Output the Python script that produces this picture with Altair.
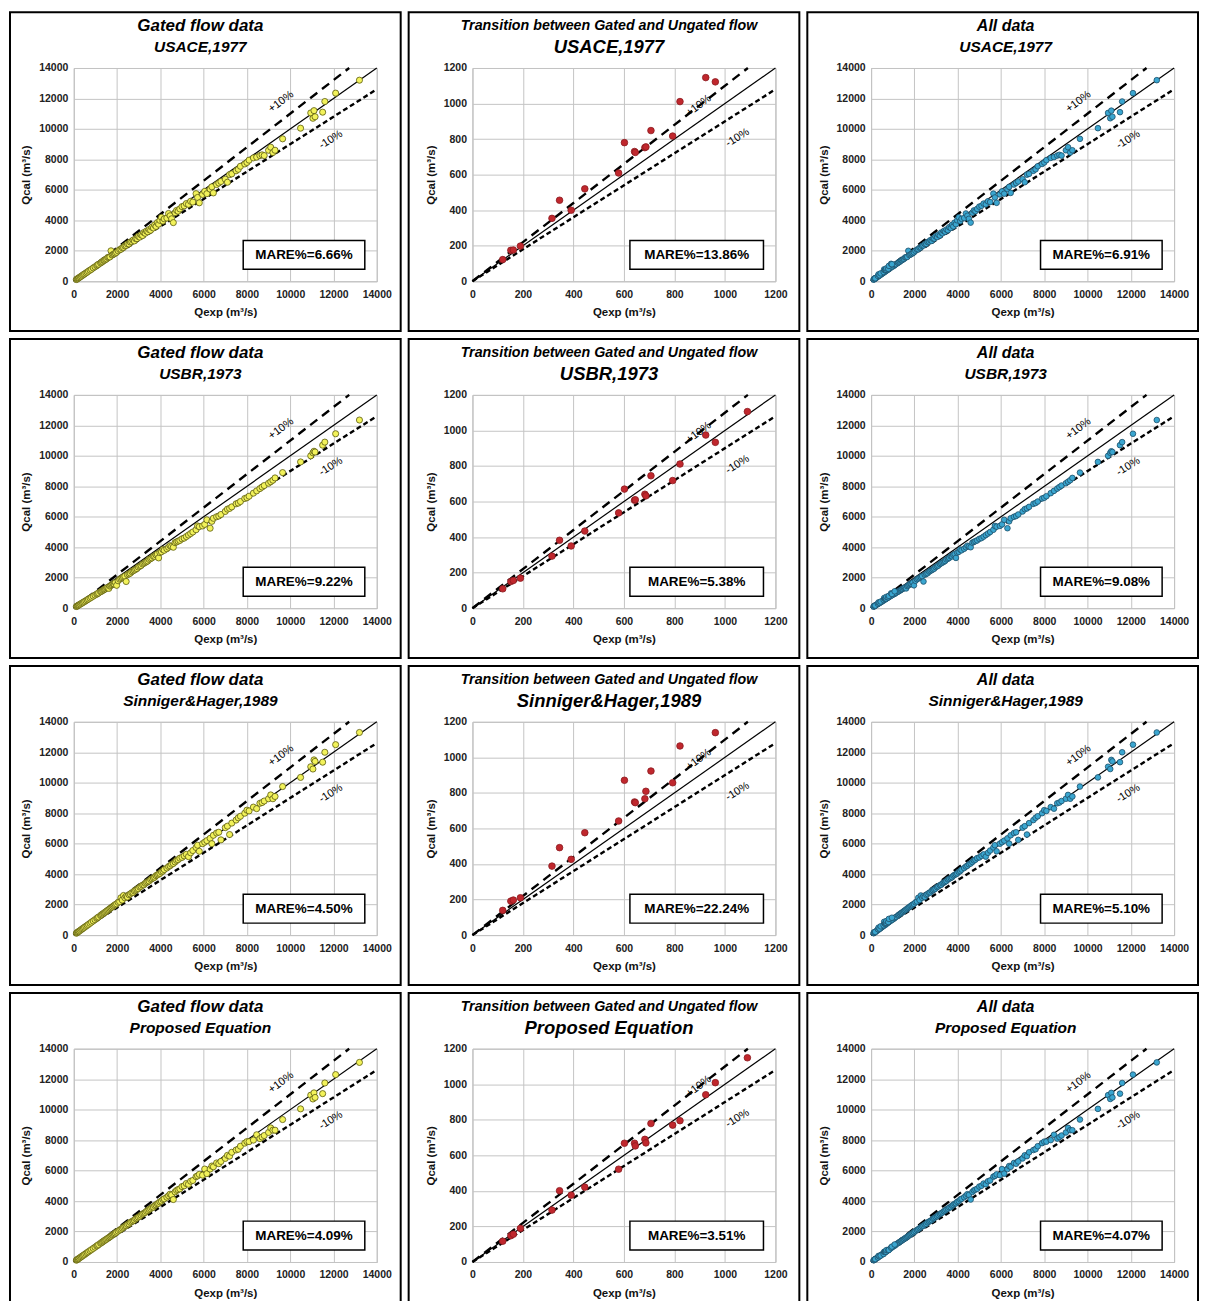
import altair as alt
import pandas as pd

# ---------------- data ----------------
# Gated flow: measured discharge (shared by all methods)
QEXP_G = [120, 150, 180, 210, 250, 300, 350, 400, 450, 500, 560, 620, 680, 750, 820, 900, 980,
          1060, 1100, 1150, 1240, 1280, 1330, 1380, 1420, 1470, 1520, 1570, 1620, 1670, 1720, 1770, 1820, 1870, 1920, 1980,
          2050, 2120, 2180, 2240, 2300, 2360, 2420, 2480, 2550, 2610, 2680, 2740, 2800, 2860, 2920, 2980,
          3050, 3110, 3180, 3240, 3300, 3360, 3420, 3480, 3550, 3610, 3680, 3740, 3800, 3860, 3920, 3980,
          4050, 4120, 4180, 4300, 4380, 4450, 4520, 4600, 4680, 4750, 4820, 4900, 5000, 5100, 5200, 5300, 5400, 5500, 5650, 5720, 5800, 5950,
          6050, 6150, 6300, 6380, 6450, 6600, 6700, 6800, 7000, 7100, 7200, 7300, 7500, 7600, 7700, 7900, 8000, 8100, 8300, 8450, 8600, 8700, 8800, 9000, 9100, 9200, 9300,
          9650, 10480, 10950, 11050, 11100, 11150, 11500, 11600, 12100, 13200]

QCAL_G_USACE = [115, 145, 172, 205, 240, 290, 335, 390, 440, 485, 545, 600, 665, 730, 790, 880, 950,
                1020, 1080, 1120, 1200, 1250, 1290, 1360, 1380, 1430, 1470, 1560, 1580, 1600, 2000, 1720, 1760, 1800, 1850, 1900,
                2000, 2080, 2100, 2200, 2220, 2320, 2350, 2450, 2450, 2580, 2600, 2700, 2650, 2800, 2800, 2950,
                2900, 3050, 3000, 3200, 3150, 3300, 3250, 3400, 3350, 3550, 3500, 3700, 3600, 3850, 3750, 4000,
                4200, 3950, 4100, 4150, 4450, 4300, 4100, 3850, 4500, 4650, 4600, 4750, 4900, 4950, 5100, 5050, 5250, 5200, 5750, 5500, 5150, 5700,
                5900, 5750, 6050, 6200, 5800, 6350, 6450, 6550, 6700, 6500, 7000, 7050, 7250, 7350, 7550, 7700, 7800, 7950, 8100, 8150, 8250, 8300, 8250, 8600, 8800, 8450, 8600,
                9350, 10050, 11050, 10700, 11200, 10800, 11100, 11800, 12350, 13200]

QCAL_G_USBR = [110, 135, 160, 190, 225, 265, 310, 350, 395, 440, 490, 545, 600, 660, 720, 790, 860,
               920, 960, 1000, 1080, 1110, 1160, 1200, 1240, 1270, 1330, 1350, 1300, 1450, 1500, 1550, 1600, 1580, 1680, 1500,
               1800, 1900, 1950, 2000, 2050, 2100, 1750, 2200, 2250, 2300, 2400, 2450, 2500, 2550, 2600, 2700,
               2750, 2800, 2900, 2950, 3000, 3050, 3100, 3200, 3250, 3300, 3400, 3400, 3500, 3550, 3300, 3650,
               3700, 3850, 3800, 3900, 4000, 4100, 4050, 4000, 4300, 4350, 4400, 4450, 4550, 4600, 4700, 4800, 4900, 5000, 5150, 5400, 5350, 5400,
               5500, 5800, 5250, 5700, 5900, 6000, 6050, 6150, 6350, 6500, 6550, 6650, 6850, 6900, 7000, 7200, 7250, 7350, 7550, 7700, 7850, 7950, 8050, 8200, 8300, 8400, 8550,
               8900, 9600, 10000, 10200, 10300, 10250, 10700, 10900, 11450, 12350]

QCAL_G_SH = [125, 155, 190, 220, 260, 310, 365, 415, 465, 520, 580, 640, 700, 775, 850, 930, 1010,
             1090, 1140, 1190, 1280, 1330, 1380, 1430, 1470, 1520, 1580, 1630, 1680, 1740, 1790, 1840, 1900, 1950, 2000, 2050,
             2150, 2200, 2450, 2300, 2600, 2450, 2550, 2500, 2650, 2700, 2780, 2800, 2900, 2950, 3000, 3050,
             3150, 3200, 3280, 3300, 3400, 3450, 3500, 3550, 3650, 3700, 3750, 3800, 3900, 3950, 4000, 4050,
             4150, 4200, 4300, 4400, 4500, 4550, 4650, 4700, 4800, 4900, 4950, 5050, 5100, 5200, 5300, 5150, 5400, 5550, 5750, 5900, 5500, 6000,
             6100, 6200, 6350, 6000, 6550, 6700, 6750, 6250, 7050, 7150, 6600, 7350, 7550, 7700, 7800, 8000, 8200, 8150, 8400, 8300, 8650, 8700, 8800, 8950, 9200, 8950, 9100,
             9750, 10350, 11050, 10900, 11500, 11400, 11350, 12000, 12500, 13300]

QCAL_G_PROP = [118, 148, 178, 208, 245, 298, 345, 398, 445, 495, 555, 615, 675, 745, 810, 890, 970,
               1050, 1090, 1140, 1230, 1270, 1320, 1370, 1410, 1460, 1500, 1560, 1600, 1650, 1700, 1760, 1800, 1850, 1900, 1960,
               2030, 2100, 2150, 2220, 2280, 2340, 2380, 2460, 2500, 2600, 2650, 2700, 2750, 2840, 2880, 2950,
               3000, 3080, 3150, 3200, 3250, 3330, 3380, 3450, 3500, 3580, 3600, 3700, 3750, 3820, 3850, 3950,
               4000, 4100, 4150, 4250, 4350, 4450, 4400, 4100, 4600, 4700, 4750, 4800, 4950, 5000, 5150, 5100, 5300, 5350, 5600, 5650, 5750, 5700,
               6100, 5800, 6100, 6300, 6250, 6500, 6450, 6600, 6800, 7000, 6950, 7200, 7350, 7400, 7600, 7800, 7900, 7900, 8000, 8350, 8100, 8200, 8300, 8500, 8800, 8650, 8650,
               9350, 10050, 10950, 10700, 11100, 10800, 11050, 11750, 12300, 13100]

# Transition between gated and ungated flow
QEXP_T = [120, 152, 162, 190, 315, 345, 391, 445, 579, 602, 642, 645, 683, 687, 707, 793, 822, 924, 962, 1089]
QCAL_T_USACE = [122, 174, 176, 198, 354, 456, 400, 520, 609, 780, 730, 725, 752, 756, 848, 817, 1011, 1146, 1122, None]
QCAL_T_USBR = [109, 150, 156, 169, 293, 382, 350, 434, 536, 670, 607, 610, 641, 632, 745, 718, 811, 974, 933, 1106]
QCAL_T_SH = [139, 191, 197, 210, 388, 492, 426, 576, 642, 871, 749, 745, 767, 809, 923, 857, 1064, None, 1139, None]
QCAL_T_PROP = [117, 148, 156, 189, 292, 401, 376, 421, 522, 668, 668, 653, 690, 670, 779, 770, 795, 941, 1009, 1149]

METHODS = ["USACE,1977", "USBR,1973", "Sinniger&Hager,1989", "Proposed Equation"]
GATED = [QCAL_G_USACE, QCAL_G_USBR, QCAL_G_SH, QCAL_G_PROP]
TRANS = [QCAL_T_USACE, QCAL_T_USBR, QCAL_T_SH, QCAL_T_PROP]
MARE_GATED = ["6.66", "9.22", "4.50", "4.09"]
MARE_TRANS = ["13.86", "5.38", "22.24", "3.51"]
MARE_ALL = ["6.91", "9.08", "5.10", "4.07"]

# ---------------- styling ----------------
W, H = 304, 214
FONT = "Liberation Sans"
YELLOW, YELLOW_EDGE = "#f2f25a", "#5a5a10"
RED, RED_EDGE = "#c0272d", "#8a1b1f"
BLUE, BLUE_EDGE = "#3aa6d0", "#1d4f6a"


def panel(xs, ys, maxv, step, t1, t2, t1size, t2size, title_x, mare, fill, edge, size, bw, lab_pos):
    df = pd.DataFrame({"Qexp": xs, "Qcal": ys}).dropna()
    ticks = list(range(0, maxv + 1, step))
    xenc = alt.X("Qexp:Q", scale=alt.Scale(domain=[0, maxv], nice=False),
                 axis=alt.Axis(values=ticks, format="d", title="Qexp (m³/s)", labelOverlap=False,
                               labelFlush=False))
    yenc = alt.Y("Qcal:Q", scale=alt.Scale(domain=[0, maxv], nice=False),
                 axis=alt.Axis(values=ticks, format="d", title="Qcal (m³/s)", labelOverlap=False,
                               labelFlush=False))
    one = alt.Data(values=[{"k": 0}])

    frame = alt.Chart(one).mark_rect(fill="white", fillOpacity=0, stroke="black", strokeWidth=2).encode(
        x=alt.value(-64), x2=alt.value(W + 24), y=alt.value(-56), y2=alt.value(H + 50))
    title1 = alt.Chart(one).mark_text(text=t1, fontSize=t1size, fontWeight="bold", fontStyle="italic",
                                      font=FONT, color="black", baseline="middle").encode(
        x=alt.value(title_x), y=alt.value(-42))
    title2 = alt.Chart(one).mark_text(text=t2, fontSize=t2size, fontWeight="bold", fontStyle="italic",
                                      font=FONT, color="black", baseline="middle").encode(
        x=alt.value(title_x), y=alt.value(-21))
    line11 = alt.Chart(pd.DataFrame({"Qexp": [0, maxv], "Qcal": [0, maxv]})).mark_line(
        color="black", strokeWidth=1.2).encode(x=xenc, y=yenc)
    plus = alt.Chart(pd.DataFrame({"Qexp": [0, maxv / 1.1], "Qcal": [0, maxv]})).mark_line(
        color="black", strokeWidth=2.4, strokeDash=[9, 6]).encode(x=xenc, y=yenc)
    minus = alt.Chart(pd.DataFrame({"Qexp": [0, maxv], "Qcal": [0, maxv * 0.9]})).mark_line(
        color="black", strokeWidth=2.4, strokeDash=[5, 3]).encode(x=xenc, y=yenc)
    pts = alt.Chart(df).mark_circle(size=size, fill=fill, stroke=edge, strokeWidth=0.8, opacity=1).encode(
        x=xenc, y=yenc)
    (px, py), (mx, my) = lab_pos
    plus_lbl = alt.Chart(one).mark_text(text="+10%", angle=323, fontSize=11, color="black", font=FONT).encode(
        x=alt.value(px), y=alt.value(py))
    minus_lbl = alt.Chart(one).mark_text(text="-10%", angle=328, fontSize=11, color="black", font=FONT).encode(
        x=alt.value(mx), y=alt.value(my))
    x2 = W - 12
    box = alt.Chart(one).mark_rect(fill="white", stroke="black", strokeWidth=1.5).encode(
        x=alt.value(x2 - bw), x2=alt.value(x2), y=alt.value(H - 41), y2=alt.value(H - 12))
    box_txt = alt.Chart(one).mark_text(text=f"MARE%={mare}%", fontSize=13.5, fontWeight="bold",
                                       font=FONT, color="black").encode(
        x=alt.value(x2 - bw / 2), y=alt.value(H - 26.5))
    return alt.layer(frame, title1, title2, line11, plus, minus, pts, plus_lbl, minus_lbl, box, box_txt).properties(
        width=W, height=H)


LAB_BIG = ((208, 34), (258, 72))
LAB_SMALL = ((227, 38), (266, 70))

rows = []
for i, m in enumerate(METHODS):
    g = panel(QEXP_G, GATED[i], 14000, 2000, "Gated flow data", m, 17, 15.5, 127,
              MARE_GATED[i], YELLOW, YELLOW_EDGE, 38, 122, LAB_BIG)
    t = panel(QEXP_T, TRANS[i], 1200, 200, "Transition between Gated and Ungated flow", m, 14.3, 18.5, 137,
              MARE_TRANS[i], RED, RED_EDGE, 44, 134, LAB_SMALL)
    a = panel(QEXP_G + QEXP_T, GATED[i] + TRANS[i], 14000, 2000, "All data", m, 16, 15.5, 135,
              MARE_ALL[i], BLUE, BLUE_EDGE, 32, 122, LAB_BIG)
    rows.append(alt.hconcat(g, t, a, spacing=4))

chart = alt.vconcat(*rows, spacing=4).properties(
    padding=0, background="white"
).configure_view(stroke="#b8b8b8", strokeWidth=1).configure_axis(
    labelFont=FONT, titleFont=FONT, labelFontSize=10.5, labelFontWeight="bold", labelColor="#222",
    titleFontSize=11.5, titleFontWeight="bold", titleColor="#111", gridColor="#c4c4c4", gridWidth=1,
    ticks=False, domain=False
).configure_axisX(labelPadding=8, titlePadding=7).configure_axisY(labelPadding=6, titlePadding=7)

chart.save("out.html", embed_options={"renderer": "svg", "actions": False})
